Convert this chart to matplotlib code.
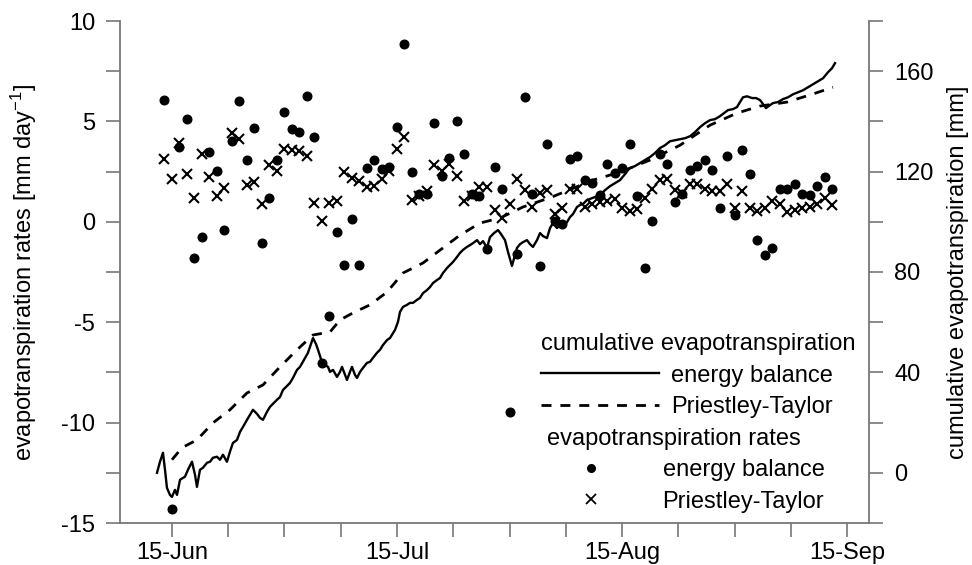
import numpy as np
import matplotlib
matplotlib.use("Agg")
import matplotlib.pyplot as plt
from matplotlib.lines import Line2D
from matplotlib.ticker import MultipleLocator

plt.rcParams['font.family'] = ['Liberation Sans', 'DejaVu Sans']
plt.rcParams['mathtext.fontset'] = 'custom'
plt.rcParams['mathtext.rm'] = 'Liberation Sans'
plt.rcParams['mathtext.it'] = 'Liberation Sans:italic'
plt.rcParams['mathtext.default'] = 'regular'
plt.rcParams['axes.unicode_minus'] = False

# ---------------- data (days since 15-Jun) ----------------
rate_days = np.arange(-1, 89)
eb_rate = [6.07, -14.3, 3.73, 5.1, -1.8, -0.75, 3.48, 2.53, -0.4, 4.0,
           6.0, 3.07, 4.67, -1.07, 1.17, 3.07, 5.46, 4.6, 4.45, 6.25, 4.2,
           -7.05, -4.7, -0.5, -2.15, 0.15, -2.15, 2.7, 3.1, 2.65, 2.75,
           4.7, 8.85, 2.5, 1.4, 1.4, 4.9, 2.3, 3.2, 5.0, 3.4,
           1.4, 1.3, -1.35, 2.75, 1.65, -9.45, -1.6, 6.2, 1.4, -2.2,
           3.85, 0.05, -0.1, 3.15, 3.3, 2.1, 1.95, 1.35, 2.9, 2.45,
           2.7, 3.85, 1.3, -2.3, 0.05, 3.4, 2.9, 1.0, 1.4, 2.6,
           2.8, 3.1, 2.6, 0.7, 3.3, 0.35, 3.6, 2.4, -0.9, -1.65,
           -1.3, 1.65, 1.65, 1.9, 1.4, 1.35, 1.8, 2.25, 1.65]
pt_rate = [3.15, 2.15, 3.9, 2.4, 1.2, 3.4, 2.25, 1.3, 1.7, 4.4, 4.1,
           1.85, 2.0, 0.87, 2.85, 2.55, 3.65, 3.6, 3.55, 3.3, 0.95, 0.05, 0.95,
           1.05, 2.5, 2.2, 2.05, 1.75, 1.8, 2.15, 2.55,
           3.65, 4.2, 1.1, 1.3, 1.55, 2.85, 2.55, 2.9, 2.3, 1.05,
           1.3, 1.75, 1.75, 0.6, 0.2, 0.9, 2.15, 1.6, 0.75, 1.45,
           1.6, 0.4, 0.7, 1.65, 1.65, 0.75, 0.9, 1.0, 1.05, 1.15,
           0.7, 0.55, 0.65, 1.2, 1.65, 2.1, 2.15, 1.6, 1.45, 1.9,
           1.9, 1.65, 1.55, 1.55, 1.9, 0.7, 1.55, 0.7, 0.55, 0.7,
           1.05, 0.9, 0.5, 0.6, 0.7, 0.75, 0.9, 1.2, 0.85]

cum_eb_day = [-2.0, -1.6, -1.2, -0.93, -0.67, -0.27, 0.0, 0.4, 0.67, 1.07,
              1.47, 1.73, 2.13, 2.67, 3.07, 3.33, 3.73, 4.13, 4.67, 5.07,
              5.47, 6.0, 6.4, 6.8, 7.33, 7.73, 8.13, 8.67, 9.07, 9.47,
              10.0, 10.4, 10.8, 11.33, 11.73, 12.13, 12.67, 13.07, 13.47, 14.0,
              14.4, 14.8, 15.33, 15.73, 16.13, 16.67, 17.07, 17.6, 18.13, 18.53,
              18.8, 19.2, 19.47, 19.73, 20.0, 20.4, 20.8, 21.07, 21.47, 22.0,
              22.4, 22.67, 23.07, 23.33, 23.73, 24.0, 24.4, 24.67, 25.07, 25.47,
              26.0, 26.4, 26.8, 27.33, 27.73, 28.13, 28.67, 29.07, 29.73, 30.13,
              30.4, 30.8, 31.33, 31.73, 32.13, 32.67, 33.07, 33.47, 34.0, 34.4,
              34.8, 35.33, 35.73, 36.13, 36.67, 37.07, 37.47, 38.0, 38.4, 38.8,
              39.33, 39.73, 40.13, 40.67, 41.07, 41.47, 42.0, 42.4, 42.93, 43.47,
              43.87, 44.4, 44.8, 45.33, 45.73, 46.0, 46.4, 46.8, 47.33, 47.73,
              48.13, 48.67, 49.07, 49.47, 50.0, 50.4, 50.8, 51.33, 51.73, 52.13,
              52.67, 53.07, 53.47, 54.0, 54.4, 54.8, 55.33, 55.73, 56.4, 57.07,
              57.73, 58.4, 59.07, 59.73, 60.4, 60.8, 61.07, 61.73, 62.4, 63.07,
              63.73, 64.4, 65.07, 65.73, 66.4, 67.07, 67.73, 68.4, 69.07, 69.73,
              70.4, 71.07, 71.73, 72.4, 73.07, 73.6, 74.13, 74.8, 75.33, 75.73,
              76.13, 76.67, 77.33, 77.87, 78.4, 78.8, 79.2, 79.73, 80.13, 80.8,
              81.47, 82.13, 82.8, 83.47, 84.13, 84.8, 85.47, 86.13, 86.8, 87.47,
              88.0, 88.4]
cum_eb_mm = [0, 4.4, 8.0, 1.2, -6.0, -8.8, -9.6, -6.8, -8.8, -2.8,
             -2.0, -1.6, 1.2, 4.4, -0.8, -5.6, 1.2, 2.0, 4.0, 4.4,
             6.0, 6.4, 5.2, 7.2, 4.4, 8.4, 11.9, 13.1, 16.3, 18.3,
             21.1, 23.1, 25.1, 23.5, 21.9, 21.1, 24.3, 26.3, 27.5, 29.1,
             30.2, 33.0, 34.6, 35.8, 37.8, 41.0, 42.2, 45.0, 47.8, 51.3,
             53.7, 51.3, 49.0, 46.6, 43.8, 43.0, 42.2, 40.2, 41.0, 38.2,
             40.2, 42.2, 39.0, 37.0, 40.2, 42.2, 39.0, 37.8, 40.2, 41.8,
             43.8, 44.2, 45.8, 47.8, 49.0, 50.9, 52.9, 53.7, 56.9, 60.1,
             64.1, 66.1, 66.9, 67.7, 67.7, 68.9, 69.7, 71.6, 72.8, 74.0,
             75.6, 76.8, 77.6, 79.6, 81.6, 82.8, 84.0, 86.0, 87.6, 88.8,
             90.0, 90.7, 91.5, 92.7, 91.1, 92.3, 89.6, 93.9, 95.5, 96.7,
             95.1, 92.7, 88.0, 82.4, 86.8, 89.6, 91.1, 91.9, 92.7, 91.1,
             90.0, 92.7, 95.5, 94.3, 93.5, 97.5, 99.5, 97.5, 98.7, 97.9,
             99.9, 101.9, 103.1, 105.9, 106.7, 107.1, 108.7, 109.1, 109.9, 110.6,
             112.6, 114.2, 115.4, 116.6, 119.0, 120.6, 121.4, 122.2, 123.4, 124.6,
             125.8, 127.4, 129.4, 130.5, 132.1, 132.5, 132.9, 133.3, 134.1, 135.7,
             137.7, 139.3, 140.5, 140.9, 142.1, 143.3, 144.5, 144.9, 145.7, 147.7,
             149.6, 150.0, 149.3, 149.3, 148.5, 146.9, 145.3, 146.5, 147.3, 147.7,
             148.9, 149.6, 150.8, 151.6, 152.4, 153.6, 154.8, 156.0, 157.2, 159.6,
             161.2, 163.2]

cum_pt_day = [0.0, 1.33, 3.33, 5.47, 7.73, 10.0, 12.13, 14.4, 16.67, 18.8,
              21.07, 22.4, 24.13, 26.4, 28.67, 30.8, 33.47, 36.13, 38.4, 41.07,
              43.73, 46.8, 50.67, 56.13, 59.73, 63.73, 67.73, 71.73, 75.33, 78.4,
              82.0, 85.33, 88.13]
cum_pt_mm = [5.2, 10.0, 13.1, 19.9, 25.1, 31.8, 35.0, 42.2, 49.0, 54.9,
             56.1, 60.9, 63.7, 66.9, 72.0, 79.6, 83.6, 89.6, 94.7, 99.5,
             101.5, 105.9, 109.9, 116.6, 119.8, 124.6, 130.5, 138.5, 143.3, 146.1,
             147.7, 150.8, 153.6]

x_tick_days = [0, 30, 60, 90]
x_tick_labels = ['15-Jun', '15-Jul', '15-Aug', '15-Sep']

# ---------------- figure ----------------
FS = 17
GREY = '#777777'
DASH = (3.6, 3.2)

fig = plt.figure(figsize=(9.72, 5.65), dpi=100)
ax = fig.add_axes([120 / 972, 42 / 565, 749 / 972, 502 / 565])
ax2 = ax.twinx()

ax.plot(rate_days, eb_rate, linestyle='none', marker='o', ms=6.2,
        color='black', zorder=3)
ax.plot(rate_days, pt_rate, linestyle='none', marker='x', ms=7.5, mew=1.5,
        color='black', zorder=3)

ax2.plot(cum_eb_day, cum_eb_mm, color='black', lw=1.7, zorder=2)
ax2.plot(cum_pt_day, cum_pt_mm, color='black', lw=2.0, linestyle='--',
         dashes=DASH, zorder=2)

ax.set_xlim(-6.93, 92.93)
ax.set_ylim(-15, 10)
ax2.set_ylim(-20, 180)

ax.set_xticks(x_tick_days)
ax.set_xticklabels(x_tick_labels)
ax.xaxis.set_minor_locator(MultipleLocator(7.5))
ax.yaxis.set_major_locator(MultipleLocator(5))
ax.yaxis.set_minor_locator(MultipleLocator(2.5))
ax2.yaxis.set_major_locator(MultipleLocator(40))
ax2.yaxis.set_minor_locator(MultipleLocator(20))

for s in ['top', 'right']:
    ax.spines[s].set_visible(False)
for s in ['top', 'left', 'bottom']:
    ax2.spines[s].set_visible(False)
for s in ['left', 'bottom']:
    ax.spines[s].set_color(GREY)
    ax.spines[s].set_linewidth(1.3)
ax2.spines['right'].set_color(GREY)
ax2.spines['right'].set_linewidth(1.3)

ax.tick_params(axis='both', which='both', direction='out', length=10,
               width=1.2, color=GREY, labelsize=FS, labelcolor='black')
ax.tick_params(axis='y', which='both', pad=8)
ax.tick_params(axis='x', which='both', pad=4)
ax2.tick_params(axis='y', which='both', direction='out', length=10,
                width=1.2, color=GREY, labelsize=FS, labelcolor='black', pad=8)

ax.set_ylabel('evapotranspiration rates [mm day$^{-1}$]', fontsize=FS,
              labelpad=16)
ax2.set_ylabel('cumulative evapotranspiration [mm]', fontsize=FS,
               labelpad=10)

# ---------------- legends ----------------
h_eb = Line2D([], [], color='black', lw=1.7)
h_pt = Line2D([], [], color='black', lw=2.0, linestyle='--', dashes=DASH)
leg1 = ax2.legend([h_eb, h_pt], ['energy balance', 'Priestley-Taylor'],
                  title='cumulative evapotranspiration', loc='upper left',
                  bbox_to_anchor=(0.562, 0.378), frameon=False, fontsize=FS,
                  title_fontsize=FS, handlelength=5.0, handletextpad=0.5,
                  labelspacing=0.4, borderpad=0, borderaxespad=0,
                  alignment='left')
ax2.add_artist(leg1)

h_dot = Line2D([], [], color='black', linestyle='none', marker='o', ms=5.5)
h_x = Line2D([], [], color='black', linestyle='none', marker='x', ms=6.5,
             mew=1.3)
leg2 = ax2.legend([h_dot, h_x], ['energy balance', 'Priestley-Taylor'],
                  title='evapotranspiration rates', loc='upper left',
                  bbox_to_anchor=(0.570, 0.19), frameon=False, fontsize=FS,
                  title_fontsize=FS, handlelength=3.7, handletextpad=1.2,
                  labelspacing=0.4, borderpad=0, borderaxespad=0,
                  numpoints=1, alignment='left')

fig.savefig('out.png', dpi=100)
